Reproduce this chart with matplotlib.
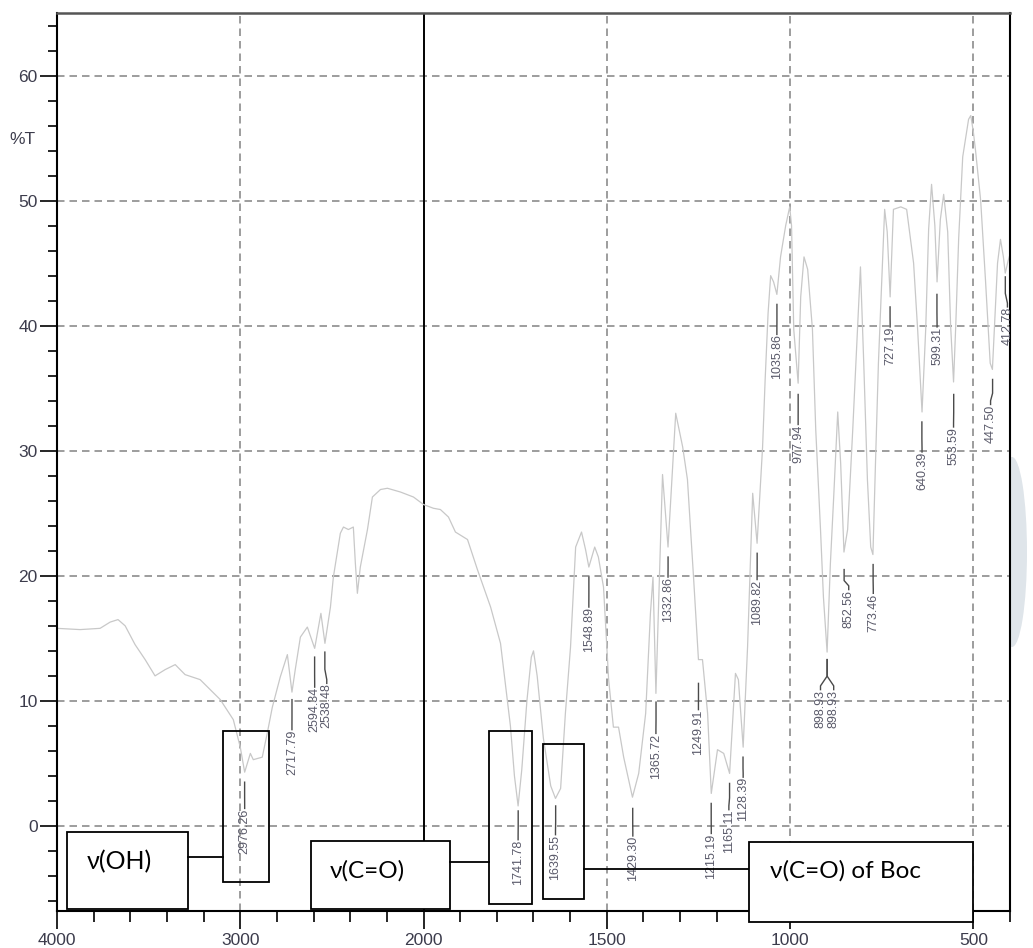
import numpy as np
import matplotlib.pyplot as plt
from matplotlib.patches import Rectangle, Ellipse
from matplotlib.lines import Line2D
from matplotlib.transforms import blended_transform_factory

# IR spectrum trace (wavenumber in cm-1, %T)
wavenumber = [4000, 3874, 3765, 3710, 3667, 3628, 3574, 3519, 3465, 3410, 3355, 3301,
              3219, 3109, 3038, 3000, 2976, 2945, 2929, 2880, 2853, 2825, 2782, 2743,
              2718, 2700, 2672, 2634, 2594, 2560, 2538, 2508, 2492, 2454, 2437, 2410,
              2383, 2372, 2361, 2345, 2306, 2279, 2235, 2197, 2126, 2055, 2000, 1973,
              1954, 1932, 1913, 1880, 1853, 1817, 1790, 1763, 1752, 1742, 1732, 1718,
              1706, 1700, 1690, 1673, 1653, 1640, 1626, 1613, 1599, 1585, 1569, 1558,
              1549, 1533, 1523, 1509, 1495, 1482, 1468, 1454, 1430, 1413, 1394, 1381,
              1374, 1366, 1348, 1333, 1312, 1293, 1280, 1263, 1250, 1239, 1225, 1215,
              1198, 1181, 1165, 1149, 1141, 1128, 1116, 1102, 1090, 1075, 1068, 1060,
              1053, 1045, 1036, 1026, 1012, 1001, 996, 990, 978, 971, 962, 952, 939,
              930, 917, 909, 899, 890, 881, 870, 862, 853, 843, 829, 816, 808, 799,
              789, 780, 774, 767, 759, 748, 742, 735, 727, 718, 698, 682, 663, 652,
              640, 630, 622, 614, 605, 599, 590, 581, 570, 562, 554, 548, 540, 529,
              521, 513, 507, 500, 494, 480, 467, 454, 448, 434, 426, 418, 413, 405, 400]
transmittance = [15.8, 15.7, 15.8, 16.3, 16.5, 16.0, 14.5, 13.3, 12.0, 12.5, 12.9, 12.1,
                 11.7, 10.1, 8.5, 6.3, 4.3, 5.8, 5.3, 5.5, 7.4, 9.5, 11.9, 13.7,
                 10.7, 12.5, 15.1, 15.9, 14.2, 17.0, 14.6, 17.5, 19.9, 23.4, 23.9, 23.7,
                 23.9, 21.0, 18.6, 20.7, 23.7, 26.3, 26.9, 27.0, 26.7, 26.3, 25.7, 25.4,
                 25.3, 24.7, 23.5, 22.9, 20.5, 17.5, 14.6, 8.0, 4.0, 1.6, 4.5, 10.0,
                 13.5, 14.0, 12.0, 7.0, 3.2, 2.2, 3.0, 9.0, 14.3, 22.3, 23.5, 22.1,
                 20.7, 22.3, 21.5, 19.1, 11.7, 7.9, 7.9, 5.5, 2.3, 4.2, 9.0, 17.0,
                 19.9, 10.6, 28.1, 22.3, 33.0, 30.3, 27.7, 19.7, 13.3, 13.3, 9.0, 2.6,
                 6.1, 5.8, 4.2, 12.2, 11.7, 6.3, 14.3, 26.6, 22.6, 30.3, 35.7, 41.0,
                 44.0, 43.5, 42.5, 45.5, 48.0, 49.5, 48.0, 39.7, 35.4, 42.3, 45.5, 44.5, 39.7,
                 31.7, 23.7, 18.3, 13.9, 21.0, 26.3, 33.1, 29.0, 21.9, 23.7, 31.7, 39.7, 44.7, 37.0,
                 27.7, 22.3, 21.7, 29.0, 37.0, 45.0, 49.3, 47.5, 42.3, 49.3, 49.5, 49.3, 45.0, 39.7,
                 33.1, 39.7, 47.7, 51.3, 48.0, 43.5, 48.5, 50.5, 47.5, 40.0, 35.5, 40.0, 47.0, 53.5,
                 55.0, 56.5, 56.8, 55.5, 54.0, 50.0, 43.7, 37.0, 36.5, 45.0, 46.9, 45.5, 44.2, 45.2, 45.7]

# peak labels: text, peak position, text position, line top / bottom (%T)
peak_labels = ["2976.26", "2717.79", "2594.34", "2538.48", "1741.78", "1639.55",
               "1548.89", "1429.30", "1365.72", "1332.86", "1249.91", "1215.19",
               "1165.11", "1128.39", "1089.82", "1035.86", "977.94", "898.93",
               "898.93", "852.56", "773.46", "727.19", "640.39", "599.31",
               "553.59", "447.50", "412.78"]
peak_pos = [2976.26, 2717.79, 2594.34, 2538.48, 1741.78, 1639.55, 1548.89, 1429.30,
            1365.72, 1332.86, 1249.91, 1215.19, 1165.11, 1128.39, 1089.82, 1035.86,
            977.94, 898.93, 898.93, 852.56, 773.46, 727.19, 640.39, 599.31, 553.59,
            447.50, 412.78]
text_pos = [2976, 2718, 2594, 2528, 1742, 1640, 1549, 1429, 1366, 1333, 1250, 1215,
            1167, 1128, 1090, 1036, 978, 917, 881, 840, 773, 727, 640, 599, 554, 453, 407]
line_top = [3.5, 10.1, 13.5, 13.9, 1.2, 1.6, 19.9, 1.4, 9.9, 21.5, 11.4, 1.8, 3.4, 5.5,
            21.8, 41.7, 34.5, 13.3, 13.3, 20.5, 20.9, 41.5, 32.3, 42.5, 34.5, 35.7, 43.9]
line_bot = [1.4, 7.7, 11.1, 11.4, -1.1, -0.7, 17.5, -0.8, 7.4, 19.9, 9.3, -0.6, 1.3, 3.9,
            19.7, 39.3, 32.1, 10.9, 10.9, 18.9, 18.6, 39.9, 29.9, 39.9, 31.9, 33.7, 41.5]

y_major = [0, 10, 20, 30, 40, 50, 60]
x_major = [4000, 3000, 2000, 1500, 1000, 500]
x_grid = [3000, 1500, 1000, 500]

W, H = 1033, 948


def fwd(w):
    w = np.asarray(w, dtype=float)
    return np.where(w > 2000, 2000 + (w - 2000) / 2.0, w)


def inv(u):
    u = np.asarray(u, dtype=float)
    return np.where(u > 2000, 2000 + (u - 2000) * 2.0, u)


fig = plt.figure(figsize=(W / 100, H / 100), dpi=100)
ax = fig.add_axes([57 / W, 1 - 911 / H, 953 / W, 898 / H])
ax.set_xscale('function', functions=(fwd, inv))
ax.set_xlim(4000, 400)
ax.set_ylim(-6.8, 65)

tick_col = '#3c3c4c'
ax.set_xticks(x_major)
ax.set_xticks([v for v in range(3800, 2000, -200)] + [v for v in range(1900, 399, -100) if v not in x_major], minor=True)
ax.set_yticks(y_major)
ax.set_yticks([v for v in range(-6, 65, 2) if v not in y_major], minor=True)
ax.set_xticklabels([str(v) for v in x_major])
ax.tick_params(axis='both', labelsize=12.5, labelcolor=tick_col, colors='black')
ax.tick_params(axis='y', which='major', length=12, width=1.2, pad=2)
ax.tick_params(axis='y', which='minor', length=6.5, width=1.2)
ax.tick_params(axis='x', which='major', length=13, width=1.2, pad=3)
ax.tick_params(axis='x', which='minor', length=8, width=1.2)
for lab in ax.get_xticklabels() + ax.get_yticklabels():
    lab.set_family('Liberation Sans')

for s in ['left', 'bottom', 'right']:
    ax.spines[s].set_linewidth(1.5)
    ax.spines[s].set_color('black')
ax.spines['top'].set_linewidth(1.8)
ax.spines['top'].set_color('#555555')

# dashed grid
for y in y_major:
    ax.axhline(y, color='#8c8c8c', lw=1.2, ls=(0, (4.5, 3)), zorder=1)
for x in x_grid:
    ax.axvline(x, color='#8c8c8c', lw=1.2, ls=(0, (4.5, 3)), zorder=1)
ax.axvline(2000, color='black', lw=1.4, zorder=1)

ax.plot(wavenumber, transmittance, color='#c8c8c8', lw=0.9, zorder=2)

# peak markers
for lab, p, t, top, bot in zip(peak_labels, peak_pos, text_pos, line_top, line_bot):
    knee = top - 0.55 * (top - bot)
    ax.plot([p, p, t, t], [top, knee, bot + 0.3, bot], color='#4a4a4a', lw=1.0,
            zorder=3, clip_on=False)
    ax.text(t, bot, lab, rotation=90, ha='center', va='top', fontsize=9,
            color='#5a5a6a', family='Liberation Sans', zorder=3, clip_on=False)

ax.text(-0.023, 54.9, '%T', transform=blended_transform_factory(ax.transAxes, ax.transData),
        ha='right', va='center', fontsize=12.5, color=tick_col, family='Liberation Sans')


# annotation boxes (pixel layout of the original picture)
def box(x0, y0, x1, y1, fill):
    fig.add_artist(Rectangle((x0 / W, 1 - y1 / H), (x1 - x0) / W, (y1 - y0) / H,
                             transform=fig.transFigure, facecolor='white' if fill else 'none',
                             edgecolor='black', lw=1.3, zorder=5))


def hline(x0, x1, y):
    fig.add_artist(Line2D([x0 / W, x1 / W], [1 - y / H, 1 - y / H], transform=fig.transFigure,
                          color='black', lw=1.3, zorder=5))


box(67, 832, 188, 909, True)
box(223, 731, 269, 882, False)
hline(188, 223, 857)
box(311, 841, 450, 909, True)
box(489, 731, 532, 904, False)
hline(450, 489, 862)
box(543, 744, 584, 899, False)
hline(584, 749, 869)
box(749, 842, 973, 922, True)

fig.text(87 / W, 1 - 862 / H, 'ν(OH)', fontsize=18, family='Lato', va='center', zorder=6)
fig.text(330 / W, 1 - 871 / H, 'ν(C=O)', fontsize=17.5, family='Lato', va='center', zorder=6)
fig.text(770 / W, 1 - 871 / H, 'ν(C=O) of Boc', fontsize=17.5, family='Lato', va='center', zorder=6)

# faint watermark on the right edge
fig.add_artist(Ellipse((1012 / W, 1 - 552 / H), 30 / W, 190 / H, transform=fig.transFigure,
                       facecolor='#dfe5ea', edgecolor='none', zorder=-1))

fig.savefig('out.png', dpi=100, facecolor='white')
